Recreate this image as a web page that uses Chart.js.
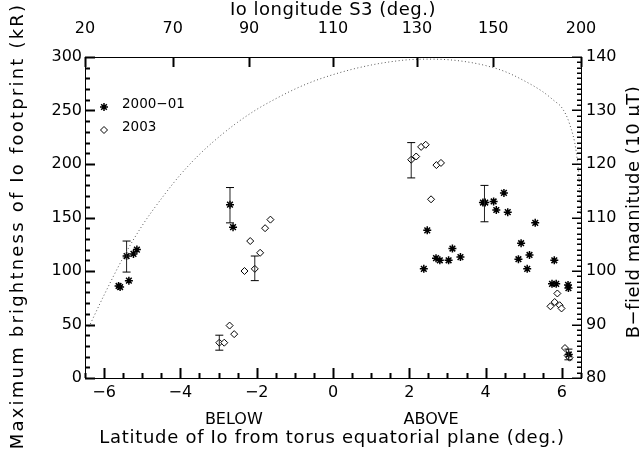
<!DOCTYPE html>
<html>
<head>
<meta charset="utf-8">
<script src="https://cdn.jsdelivr.net/npm/chart.js@4"></script>
<style>
html, body { margin: 0; padding: 0; background: #fff; }
</style>
</head>
<body>
<canvas id="c" width="639" height="456"></canvas>
<script>
// 2000-01 observations (asterisks)
const lat0001 = [-5.62, -5.58, -5.35, -5.41, -5.23, -5.14, -2.70, -2.62, 2.38, 2.47, 2.70, 2.80, 3.03, 3.13, 3.34,
    3.93, 3.99, 4.21, 4.28, 4.48, 4.58, 4.86, 4.93, 5.09, 5.15, 5.30, 5.74, 5.80, 5.85, 6.16, 6.17, 6.18];
const kr0001 = [86, 85, 91, 114, 116, 120, 162, 141, 102, 138, 112, 110, 110, 121, 113,
    164, 164, 165, 157, 173, 155, 111, 126, 102, 115, 145, 88, 110, 88, 87, 84, 22];

// 2003 observations (diamonds)
const lat2003 = [-2.98, -2.85, -2.71, -2.59, -2.32, -2.17, -2.05, -1.91, -1.78, -1.64,
    2.05, 2.18, 2.31, 2.43, 2.57, 2.71, 2.83, 5.70, 5.81, 5.88, 5.94, 5.99, 6.08, 6.15, 6.20];
const kr2003 = [33, 33, 49, 41, 100, 128, 102, 117, 140, 148,
    204, 207, 216, 218, 167, 199, 201, 67, 71, 79, 68, 65, 28, 21, 19];

// error bars
const errLat0001 = [-5.41, -2.70, 3.97];
const errLo0001 = [99, 145, 146];
const errHi0001 = [128, 178, 180];
const errLat2003 = [-2.98, -2.05, 2.05, 6.17];
const errLo2003 = [26, 91, 187, 17];
const errHi2003 = [40, 114, 220, 27];

// B-field magnitude (right axis, 10 uT)
const bLat = [-6.40, -6.0, -5.5, -5.0, -4.5, -4.0, -3.5, -3.0, -2.5, -2.0, -1.5, -1.0, -0.5, 0, 0.5, 1.0, 1.5,
    2.0, 2.5, 3.0, 3.5, 4.0, 4.5, 5.0, 5.5, 5.8, 6.0, 6.2, 6.38, 6.46, 6.5];
const bVal = [89.5, 95.5, 102.5, 108.5, 113.5, 118, 121.8, 125, 127.8, 130.2, 132.2, 134, 135.5, 136.7, 137.7, 138.5, 139.1,
    139.5, 139.6, 139.5, 139.1, 138.4, 137.3, 135.6, 133.5, 131.8, 130.5, 127.5, 122, 116, 110];

// ticks
const xTicks = [-6, -4, -2, 0, 2, 4, 6];
const topTickPos = [-6.5, -4.2, -2.2, 0, 2.2, 4.2, 6.5];
const topTickLabels = ['20', '70', '90', '110', '130', '150', '200'];
const yTicks = [0, 50, 100, 150, 200, 250, 300];
const bTicks = [80, 90, 100, 110, 120, 130, 140];

const FONT = 'DejaVu Sans';

function pts(xs, ys) {
    return xs.map((x, i) => ({ x: x, y: ys[i] }));
}

function errPts(xs, lo, hi) {
    const out = [];
    xs.forEach((x, i) => {
        out.push({ x: x, y: lo[i] });
        out.push({ x: x, y: hi[i] });
        out.push({ x: x, y: null });
    });
    return out;
}

function minus(v) {
    return v < 0 ? '\u2212' + Math.abs(v) : String(v);
}

function spacedText(ctx, text, x, y, spacing) {
    // centred text with extra letter spacing
    ctx.letterSpacing = spacing + 'px';
    const w = ctx.measureText(text).width;
    ctx.textAlign = 'left';
    ctx.fillText(text, x - w / 2, y);
    ctx.letterSpacing = '0px';
}

const frameTicks = {
    id: 'frameTicks',
    afterDraw(chart) {
        const { ctx, chartArea: a, scales } = chart;
        const L = Math.round(a.left), R = Math.round(a.right), T = Math.round(a.top), B = Math.round(a.bottom);
        ctx.save();
        ctx.setLineDash([]);
        ctx.fillStyle = '#000';
        // frame
        ctx.fillRect(L, T, R - L + 1, 1);
        ctx.fillRect(L, B, R - L + 1, 1);
        ctx.fillRect(L, T, 1, B - T + 1);
        ctx.fillRect(R, T, 1, B - T + 1);

        // bottom: major every 2, minor every 0.5
        for (let v = -6.5; v <= 6.5; v += 0.5) {
            const px = Math.round(scales.x.getPixelForValue(v));
            const len = xTicks.includes(v) ? 10 : 5;
            ctx.fillRect(px - 0.5, B - len, 2, len);
        }
        // top: majors only
        topTickPos.forEach(v => {
            const px = Math.round(scales.x2.getPixelForValue(v));
            ctx.fillRect(px - 0.5, T, 2, 10);
        });
        // left: major every 50, minor every 10
        for (let v = 0; v <= 300; v += 10) {
            const py = Math.round(scales.y.getPixelForValue(v));
            const len = yTicks.includes(v) ? 10 : 5;
            ctx.fillRect(L, py - 0.5, len, 2);
        }
        // right: major every 10, minor every 1
        for (let v = 80; v <= 140; v += 1) {
            const py = Math.round(scales.yB.getPixelForValue(v));
            const len = bTicks.includes(v) ? 10 : 5;
            ctx.fillRect(R - len + 1, py - 0.5, len, 1.5);
        }

        // legend
        ctx.strokeStyle = '#000';
        ctx.lineWidth = 1.5;
        ctx.beginPath();
        const sx = 104, sy = 107, r = 4;
        ctx.moveTo(sx - r, sy); ctx.lineTo(sx + r, sy);
        ctx.moveTo(sx, sy - r); ctx.lineTo(sx, sy + r);
        const d = r * 0.7071;
        ctx.moveTo(sx - d, sy - d); ctx.lineTo(sx + d, sy + d);
        ctx.moveTo(sx - d, sy + d); ctx.lineTo(sx + d, sy - d);
        ctx.stroke();
        ctx.lineWidth = 1;
        ctx.beginPath();
        const dx = 104, dy = 130, rd = 3.5;
        ctx.moveTo(dx, dy - rd); ctx.lineTo(dx + rd, dy); ctx.lineTo(dx, dy + rd); ctx.lineTo(dx - rd, dy); ctx.closePath();
        ctx.stroke();

        ctx.font = '13.5px "' + FONT + '"';
        ctx.textAlign = 'left';
        ctx.textBaseline = 'middle';
        ctx.fillText('2000\u221201', 122, 104);
        ctx.fillText('2003', 122, 127);

        // BELOW / ABOVE
        ctx.font = '16px "' + FONT + '"';
        ctx.textAlign = 'center';
        ctx.fillText('BELOW', scales.x.getPixelForValue(-2.6), 420);
        ctx.fillText('ABOVE', scales.x.getPixelForValue(2.57), 420);

        // axis titles
        ctx.font = '18px "' + FONT + '"';
        spacedText(ctx, 'Latitude of Io from torus equatorial plane (deg.)', 332, 438, 0.7);
        spacedText(ctx, 'Io longitude S3 (deg.)', 333, 10, 0.5);

        ctx.save();
        ctx.translate(18, 226);
        ctx.rotate(-Math.PI / 2);
        spacedText(ctx, 'Maximum brightness of Io footprint (kR)', 0, 0, 2.2);
        ctx.restore();

        // right axis title, reading bottom to top, clipped by the canvas edge
        ctx.save();
        ctx.translate(639, 212);
        ctx.rotate(-Math.PI / 2);
        ctx.textBaseline = 'alphabetic';
        spacedText(ctx, 'B\u2212field magnitude (10 \u03bcT)', 0, 0, 0.5);
        ctx.restore();

        ctx.restore();
    }
};

const tickFont = { family: FONT, size: 16 };

new Chart(document.getElementById('c'), {
    type: 'scatter',
    data: {
        datasets: [
            {
                type: 'line',
                data: pts(bLat, bVal),
                yAxisID: 'yB',
                borderColor: '#555',
                borderWidth: 1,
                borderDash: [1, 2.5],
                pointRadius: 0,
                cubicInterpolationMode: 'monotone',
                fill: false
            },
            {
                type: 'line',
                data: errPts(errLat0001, errLo0001, errHi0001),
                borderColor: '#222',
                borderWidth: 1,
                pointStyle: 'line',
                pointRadius: 4,
                pointBorderColor: '#000',
                spanGaps: false
            },
            {
                type: 'line',
                data: errPts(errLat2003, errLo2003, errHi2003),
                borderColor: '#222',
                borderWidth: 1,
                pointStyle: 'line',
                pointRadius: 4,
                pointBorderColor: '#000',
                spanGaps: false
            },
            {
                label: '2000-01',
                data: pts(lat0001, kr0001),
                pointStyle: 'star',
                pointRadius: 4,
                borderColor: '#000',
                borderWidth: 1.5
            },
            {
                label: '2003',
                data: pts(lat2003, kr2003),
                pointStyle: 'rectRot',
                pointRadius: 3.5,
                backgroundColor: '#fff',
                borderColor: '#000',
                borderWidth: 1
            }
        ]
    },
    options: {
        responsive: false,
        animation: false,
        devicePixelRatio: 1,
        layout: { padding: 0 },
        plugins: {
            legend: { display: false },
            tooltip: { enabled: false }
        },
        scales: {
            x: {
                type: 'linear',
                position: 'bottom',
                min: -6.5,
                max: 6.5,
                grid: { display: false, drawTicks: false },
                border: { display: false },
                afterBuildTicks: s => { s.ticks = xTicks.map(v => ({ value: v })); },
                afterFit: s => { s.height = 78; },
                ticks: { font: tickFont, color: '#000', padding: 5, maxRotation: 0, autoSkip: false, callback: v => minus(v) }
            },
            x2: {
                type: 'linear',
                position: 'top',
                min: -6.5,
                max: 6.5,
                grid: { display: false, drawTicks: false },
                border: { display: false },
                afterBuildTicks: s => { s.ticks = topTickPos.map(v => ({ value: v })); },
                afterFit: s => { s.height = 57; },
                ticks: { font: tickFont, color: '#000', padding: 19, maxRotation: 0, autoSkip: false, callback: (v, i) => topTickLabels[i] }
            },
            y: {
                type: 'linear',
                position: 'left',
                min: 0,
                max: 300,
                grid: { display: false, drawTicks: false },
                border: { display: false },
                afterBuildTicks: s => { s.ticks = yTicks.map(v => ({ value: v })); },
                afterFit: s => { s.width = 85; },
                ticks: { font: tickFont, color: '#000', padding: 3, autoSkip: false }
            },
            yB: {
                type: 'linear',
                position: 'right',
                min: 80,
                max: 140,
                grid: { display: false, drawTicks: false },
                border: { display: false },
                afterBuildTicks: s => { s.ticks = bTicks.map(v => ({ value: v })); },
                afterFit: s => { s.width = 58; },
                ticks: { font: tickFont, color: '#000', padding: 5, autoSkip: false }
            }
        }
    },
    plugins: [frameTicks]
});
</script>
</body>
</html>
